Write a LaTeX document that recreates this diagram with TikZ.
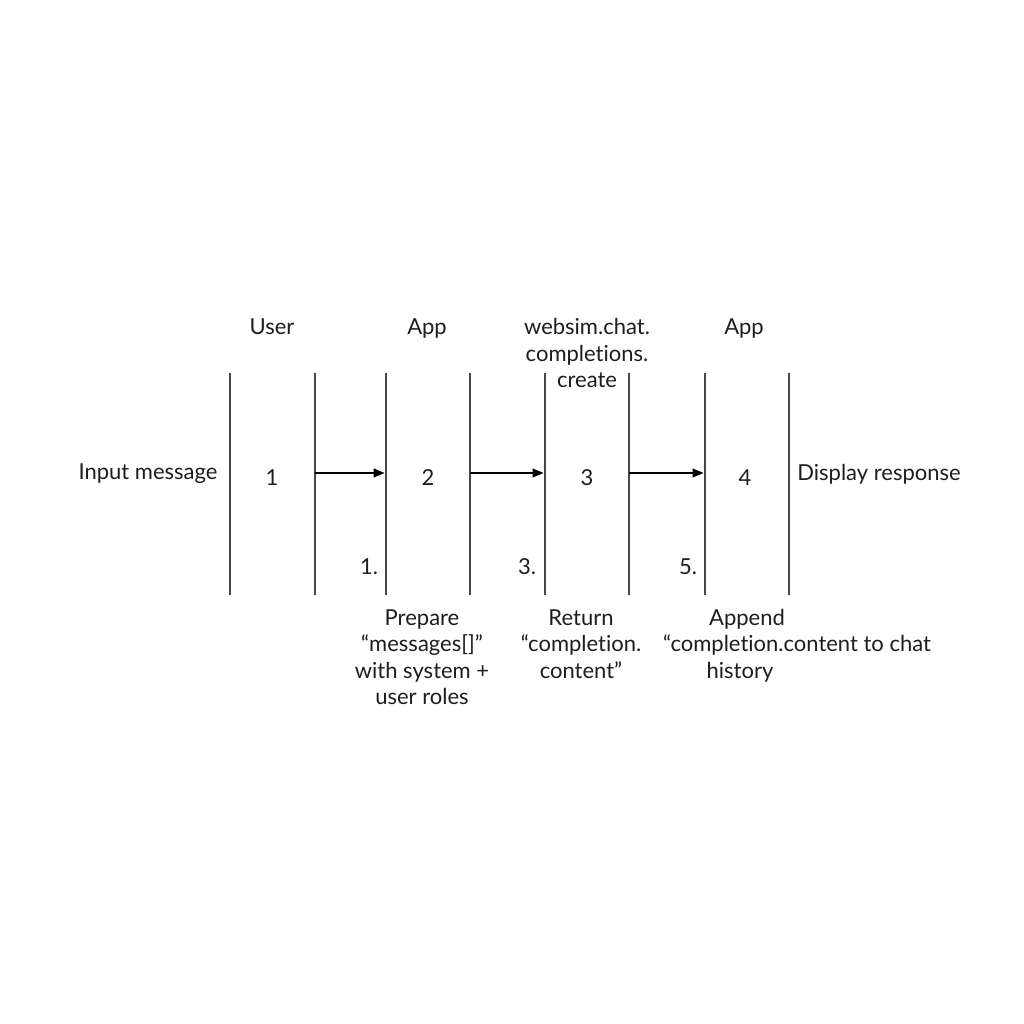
\documentclass[tikz,border=0pt]{standalone}
\usepackage{fontspec}
\setmainfont{Lato}[Ligatures=NoCommon]
\usetikzlibrary{arrows.meta}
\definecolor{lanegray}{RGB}{70,70,70}
\definecolor{textgray}{RGB}{30,30,30}
\tikzset{
    lane/.style={draw=lanegray, line width=1.5pt},
    msg/.style={-{Triangle[length=11pt,width=9pt]}, line width=1.1pt, black, shorten >=1.5pt},
    lbl/.style={font=\fontsize{22}{26.5}\selectfont, text=textgray, align=center, inner sep=0pt},
}

\begin{document}
\begin{tikzpicture}[x=1pt, y=-1pt]
    \useasboundingbox[fill=white] (0,0) rectangle (1024,1024);

    % lifelines
    \foreach \n/\x in {1/230, 2/315, 3/386, 4/470, 5/545, 6/629, 7/705, 8/789} {
        \coordinate (t\n) at (\x,373);
        \coordinate (b\n) at (\x,595);
        \coordinate (m\n) at (\x,473);
        \draw[lane] (t\n) -- (b\n);
    }

    % headers
    \node[lbl] (user) at (272,327) {User};
    \node[lbl] (app1) at (427,329) {App};
    \node[lbl] (api) at (587,353) {websim.chat.\\completions.\\create};
    \node[lbl] (app2) at (744,329) {App};

    % middle row
    \node[lbl] (input) at (148,474) {Input message};
    \node[lbl] (s1) at (272,478) {1};
    \node[lbl] (s2) at (428,478) {2};
    \node[lbl] (s3) at (587,478) {3};
    \node[lbl] (s4) at (745,478) {4};
    \node[lbl] (display) at (879,474) {Display response};

    % step numbers
    \node[lbl] (n1) at (369,567) {1.};
    \node[lbl] (n3) at (527,567) {3.};
    \node[lbl] (n5) at (688,567) {5.};

    % notes
    \node[lbl] (prepare) at (422,657) {Prepare\\“messages[]”\\with system +\\user roles};
    \node[lbl] (return) at (581,644) {Return\\“completion.\\content”};
    \node[lbl] (append) at (747,619) {Append};
    \node[lbl] (append2) at (797,645) {“completion.content to chat};
    \node[lbl] (append3) at (740,672) {history};

    \draw[msg] (m2) -- (m3);
    \draw[msg] (m4) -- (m5);
    \draw[msg] (m6) -- (m7);
\end{tikzpicture}
\end{document}
